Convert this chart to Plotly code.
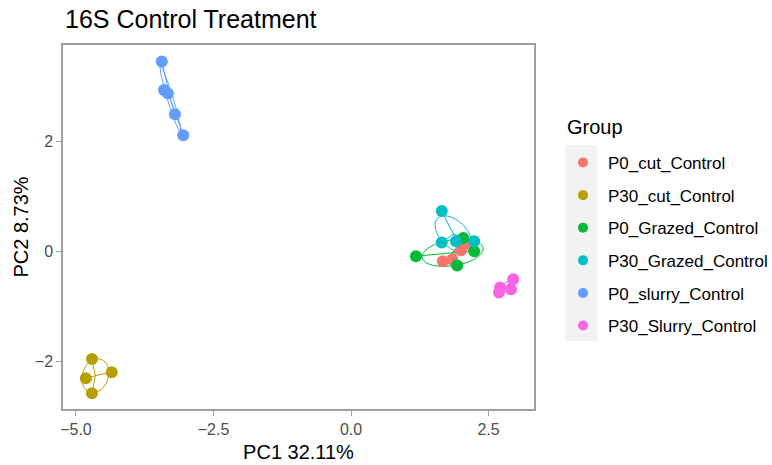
import numpy as np
import plotly.graph_objects as go

# PCA scores per sample group (PC1, PC2)
groups = ["P0_cut_Control", "P30_cut_Control", "P0_Grazed_Control",
          "P30_Grazed_Control", "P0_slurry_Control", "P30_Slurry_Control"]
colors = ["#F8766D", "#B79F00", "#00BA38", "#00BFC4", "#619CFF", "#F564E3"]

pc1_p0_cut = [1.67, 1.84, 2.00, 2.09]
pc2_p0_cut = [-0.17, -0.14, 0.03, 0.14]
pc1_p30_cut = [-4.71, -4.35, -4.82, -4.71]
pc2_p30_cut = [-1.95, -2.19, -2.30, -2.57]
pc1_p0_grazed = [1.18, 1.93, 2.24, 2.04]
pc2_p0_grazed = [-0.08, -0.25, 0.01, 0.25]
pc1_p30_grazed = [1.65, 1.65, 1.91, 2.24]
pc2_p30_grazed = [0.74, 0.17, 0.19, 0.19]
pc1_p0_slurry = [-3.44, -3.40, -3.33, -3.20, -3.05]
pc2_p0_slurry = [3.46, 2.94, 2.88, 2.50, 2.12]
pc1_p30_slurry = [2.69, 2.71, 2.91, 2.95]
pc2_p30_slurry = [-0.74, -0.65, -0.68, -0.50]

pc1 = [pc1_p0_cut, pc1_p30_cut, pc1_p0_grazed, pc1_p30_grazed, pc1_p0_slurry, pc1_p30_slurry]
pc2 = [pc2_p0_cut, pc2_p30_cut, pc2_p0_grazed, pc2_p30_grazed, pc2_p0_slurry, pc2_p30_slurry]

x_ticks = [-5.0, -2.5, 0.0, 2.5]
y_ticks = [-2, 0, 2]

FONT = "Liberation Sans"


def ellipse(xs, ys, scale=1.0, n=120):
    """Covariance ellipse around a group's scores."""
    xs, ys = np.asarray(xs), np.asarray(ys)
    cov = np.cov(xs, ys)
    vals, vecs = np.linalg.eigh(cov)
    vals = np.clip(vals, 0, None)
    t = np.linspace(0, 2 * np.pi, n)
    circ = np.vstack([np.cos(t), np.sin(t)])
    pts = vecs @ (np.sqrt(vals)[:, None] * circ) * scale
    return xs.mean() + pts[0], ys.mean() + pts[1]


fig = go.Figure()

for g, c, xs, ys in zip(groups, colors, pc1, pc2):
    ex, ey = ellipse(xs, ys, scale=1.2)
    fig.add_trace(go.Scatter(x=ex, y=ey, mode="lines", line=dict(color=c, width=1),
                             showlegend=False, hoverinfo="skip"))
    # spokes from the group centroid to each sample
    cx, cy = np.mean(xs), np.mean(ys)
    sx, sy = [], []
    for xv, yv in zip(xs, ys):
        sx += [cx, xv, None]
        sy += [cy, yv, None]
    fig.add_trace(go.Scatter(x=sx, y=sy, mode="lines", line=dict(color=c, width=1),
                             showlegend=False, hoverinfo="skip"))

for g, c, xs, ys in zip(groups, colors, pc1, pc2):
    fig.add_trace(go.Scatter(x=xs, y=ys, mode="markers", name=g, legendgroup=g,
                             showlegend=False,
                             marker=dict(color=c, size=12, line=dict(width=0))))

# legend keys (slightly smaller dots than the plotted samples)
for g, c in zip(groups, colors):
    fig.add_trace(go.Scatter(x=[None], y=[None], mode="markers", name=g, legendgroup=g,
                             marker=dict(color=c, size=10, line=dict(width=0))))

axis_common = dict(showgrid=False, zeroline=False, showline=True, mirror=True,
                   linecolor="#A0A0A0", linewidth=1.5, ticks="outside", ticklen=5,
                   tickcolor="#A0A0A0", tickwidth=1, automargin=False,
                   tickfont=dict(family=FONT, size=16, color="#4D4D4D"))

# plot panel in pixels: x 63..534, y 45..409
L, R, T, B = 63, 534, 45, 409
W, H = 772, 465
pw, ph = R - L, B - T

fig.update_layout(
    width=W, height=H,
    margin=dict(l=L, r=W - R, t=T, b=H - B, autoexpand=False),
    plot_bgcolor="white", paper_bgcolor="white",
    title=dict(text="16S Control Treatment", x=65 / W, xanchor="left", y=1 - 19 / H, yanchor="middle",
               font=dict(family=FONT, size=25, color="black")),
    xaxis=dict(range=[-5.236, 3.327], tickvals=x_ticks, tickformat=".1f",
               title=dict(text="PC1 32.11%", font=dict(family=FONT, size=20, color="black"), standoff=8),
               **axis_common),
    yaxis=dict(range=[-2.858, 3.76], tickvals=y_ticks,
               title=dict(text="PC2 8.73%", font=dict(family=FONT, size=20, color="black"), standoff=1),
               **axis_common),
    legend=dict(font=dict(family=FONT, size=17, color="black"),
                x=(558 - L) / pw, xanchor="left", y=(B - 145) / ph, yanchor="top",
                tracegroupgap=7.5, itemwidth=40, bgcolor="rgba(0,0,0,0)"),
)

fig.add_annotation(text="Group", xref="paper", yref="paper",
                   x=(565 - L) / pw, xanchor="left", y=(B - 127.5) / ph, yanchor="middle",
                   showarrow=False, font=dict(family=FONT, size=20, color="black"))

# grey key column behind the legend symbols
fig.add_shape(type="rect", xref="paper", yref="paper",
              x0=(565 - L) / pw, x1=(597 - L) / pw,
              y0=(B - 341) / ph, y1=(B - 145) / ph,
              fillcolor="#F2F2F2", line=dict(width=0), layer="below")

fig.write_html("out.html")
